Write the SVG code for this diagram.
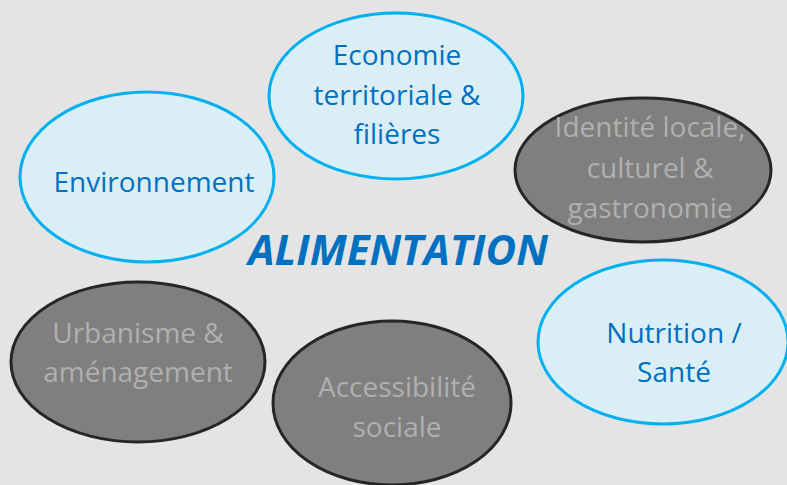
<svg xmlns="http://www.w3.org/2000/svg" width="787" height="485" viewBox="0 0 787 485">
<style>
.lb{fill:#daeef5;stroke:#00b0f0;stroke-width:3}
.dk{fill:#7f7f7f;stroke:#262626;stroke-width:3}
text{font-family:"Open Sans","Liberation Sans",sans-serif;font-size:28px;text-anchor:middle}
.tb{fill:#0070c0}
.tg{fill:#b0b0b0}
.title{font-weight:bold;font-style:italic;font-size:42px;fill:#0070c0}
</style>
<rect width="787" height="485" fill="#e4e4e4"/>
<g id="connectors"/>
<g id="economie">
<ellipse class="lb" cx="396" cy="96" rx="127" ry="83"/>
<text class="tb"><tspan x="397" y="65">Economie</tspan><tspan x="397" y="105">territoriale &amp;</tspan><tspan x="397" y="144">filières</tspan></text>
</g>
<g id="identite">
<ellipse class="dk" cx="643" cy="170" rx="128" ry="72"/>
<text class="tg"><tspan x="650" y="137">Identité locale,</tspan><tspan x="650" y="178">culturel &amp;</tspan><tspan x="650" y="218">gastronomie</tspan></text>
</g>
<g id="environnement">
<ellipse class="lb" cx="147" cy="177" rx="127" ry="85"/>
<text class="tb" x="154" y="192">Environnement</text>
</g>
<g id="urbanisme">
<ellipse class="dk" cx="138" cy="362" rx="127" ry="80"/>
<text class="tg"><tspan x="138" y="343">Urbanisme &amp;</tspan><tspan x="138" y="382">aménagement</tspan></text>
</g>
<g id="accessibilite">
<ellipse class="dk" cx="392" cy="403" rx="119" ry="82"/>
<text class="tg"><tspan x="397" y="397">Accessibilité</tspan><tspan x="397" y="437">sociale</tspan></text>
</g>
<g id="nutrition">
<ellipse class="lb" cx="663" cy="342" rx="125" ry="82"/>
<text class="tb"><tspan x="674" y="343">Nutrition /</tspan><tspan x="674" y="382">Santé</tspan></text>
</g>
<g id="alimentation">
<text class="title" x="398" y="265">ALIMENTATION</text>
</g>
</svg>
